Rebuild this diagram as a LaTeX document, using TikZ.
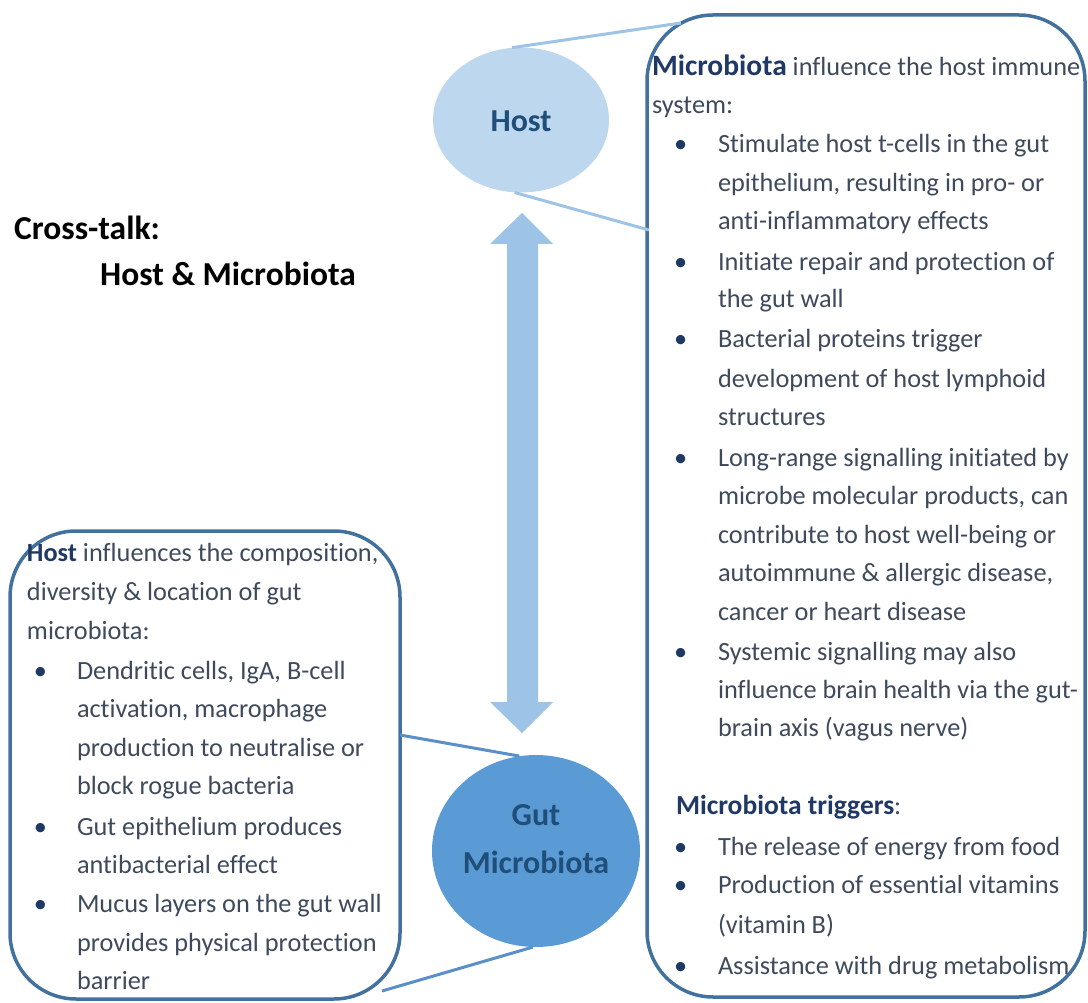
\documentclass[tikz,border=0pt]{standalone}
\usepackage{fontspec}
\setmainfont{Carlito}[Ligatures={NoCommon}]
\usetikzlibrary{shapes.geometric}
\definecolor{boxline}{HTML}{41719C}
\definecolor{hostfill}{HTML}{BDD7EE}
\definecolor{gutfill}{HTML}{5B9BD5}
\definecolor{arrowfill}{HTML}{9DC3E6}
\definecolor{navy}{HTML}{1F3864}
\definecolor{labelblue}{HTML}{1F4E79}
\definecolor{bodytext}{HTML}{3E4A5C}
\definecolor{hostline}{HTML}{9DC3E6}
\definecolor{gutline}{HTML}{5B8FC7}
\newcommand{\bigbold}[2]{{\fontsize{#1}{31}\selectfont\bfseries\textcolor{navy}{#2}}}
\begin{document}
\begin{tikzpicture}[x=1pt,y=-1pt,
  body/.style={anchor=base west, inner sep=0pt, outer sep=0pt, text=bodytext, font=\fontsize{26.3}{31}\selectfont},
  bul/.style={anchor=base west, inner sep=0pt, outer sep=0pt, text=navy, font=\fontsize{26.3}{31}\selectfont},
  title/.style={anchor=base west, inner sep=0pt, text=black, font=\fontsize{33.5}{38}\selectfont\bfseries},
  lbl/.style={text=labelblue, font=\fontsize{32}{36}\selectfont\bfseries, anchor=base, inner sep=0pt},
  bigbox/.style={draw=boxline, line width=3.5pt, rounded corners=66pt},
  link/.style={line width=3pt}
]
\useasboundingbox (0,0) rectangle (1088,1003);

% boxes
\draw[bigbox] (647,15) rectangle (1085,997);
\draw[bigbox] (10,531) rectangle (400,999);

% ellipses
\node[ellipse, fill=hostfill, minimum width=176pt, minimum height=145pt, inner sep=0pt] (host) at (521,120) {};
\node[lbl] (hostlbl) at (521,132) {Host};
\node[ellipse, fill=gutfill, minimum width=208pt, minimum height=192pt, inner sep=0pt] (gut) at (536,851) {};
\node[lbl] (gutlbl1) at (536,825) {Gut};
\node[lbl] (gutlbl2) at (536,873) {Microbiota};

% connectors host -> right box
\coordinate (rb1) at (681,23);
\coordinate (rb2) at (649,230);
\draw[link, draw=hostline] (host.97) -- (rb1);
\draw[link, draw=hostline] (host.265) -- (rb2);
% connectors gut -> left box
\coordinate (lb1) at (400,735);
\coordinate (lb2) at (382,991);
\draw[link, draw=gutline] (gut.100) -- (lb1);
\draw[link, draw=gutline] (gut.268) -- (lb2);

% double arrow
\coordinate (atop) at (522,213);
\coordinate (abot) at (522,733);
\fill[arrowfill] (atop) -- ++(-32,31) -- ++(17,0) -- ++(0,458) -- ++(-17,0) -- (abot) -- ++(31,-31) -- ++(-15,0) -- ++(0,-458) -- ++(15,0) -- cycle;

% title
\node[title] (t1) at (14,240) {Cross-talk:};
\node[title] (t2) at (100,286) {Host \& Microbiota};

% right box text
\node[body] (r1) at (652,76) {\bigbold{29.5}{Microbiota} influence the host immune};
\node[body] (r2) at (652,114) {system:};
\node[bul] (rb3) at (674,153) {•};
\node[body] (r3) at (718,153) {Stimulate host t-cells in the gut};
\node[body] (r4) at (718,192) {epithelium, resulting in pro- or};
\node[body] (r5) at (718,230) {anti-inflammatory effects};
\node[bul] (rb6) at (674,271) {•};
\node[body] (r6) at (718,271) {Initiate repair and protection of};
\node[body] (r7) at (718,308) {the gut wall};
\node[bul] (rb8) at (674,348) {•};
\node[body] (r8) at (718,348) {Bacterial proteins trigger};
\node[body] (r9) at (718,387) {development of host lymphoid};
\node[body] (r10) at (718,425) {structures};
\node[bul] (rb11) at (674,466) {•};
\node[body] (r11) at (718,466) {Long-range signalling initiated by};
\node[body] (r12) at (718,504) {microbe molecular products, can};
\node[body] (r13) at (718,543) {contribute to host well-being or};
\node[body] (r14) at (718,581) {autoimmune \& allergic disease,};
\node[body] (r15) at (718,620) {cancer or heart disease};
\node[bul] (rb16) at (674,660) {•};
\node[body] (r16) at (718,660) {Systemic signalling may also};
\node[body] (r17) at (718,698) {influence brain health via the gut-};
\node[body] (r18) at (718,736) {brain axis (vagus nerve)};
\node[body] (r19) at (676,814) {\bigbold{27.5}{Microbiota triggers}:};
\node[bul] (rb20) at (674,855) {•};
\node[body] (r20) at (718,855) {The release of energy from food};
\node[bul] (rb21) at (674,893) {•};
\node[body] (r21) at (718,893) {Production of essential vitamins};
\node[body] (r22) at (718,933) {(vitamin B)};
\node[bul] (rb23) at (674,974) {•};
\node[body] (r23) at (718,974) {Assistance with drug metabolism};

% left box text
\node[body] (l1) at (27,561) {\bigbold{26.3}{Host} influences the composition,};
\node[body] (l2) at (27,600) {diversity \& location of gut};
\node[body] (l3) at (27,639) {microbiota:};
\node[bul] (lb4) at (34,679) {•};
\node[body] (l4) at (77,679) {Dendritic cells, IgA, B-cell};
\node[body] (l5) at (77,717) {activation, macrophage};
\node[body] (l6) at (77,756) {production to neutralise or};
\node[body] (l7) at (77,794) {block rogue bacteria};
\node[bul] (lb8) at (34,835) {•};
\node[body] (l8) at (77,835) {Gut epithelium produces};
\node[body] (l9) at (77,873) {antibacterial effect};
\node[bul] (lb10) at (34,912) {•};
\node[body] (l10) at (77,912) {Mucus layers on the gut wall};
\node[body] (l11) at (77,951) {provides physical protection};
\node[body] (l12) at (77,989) {barrier};
\end{tikzpicture}
\end{document}
